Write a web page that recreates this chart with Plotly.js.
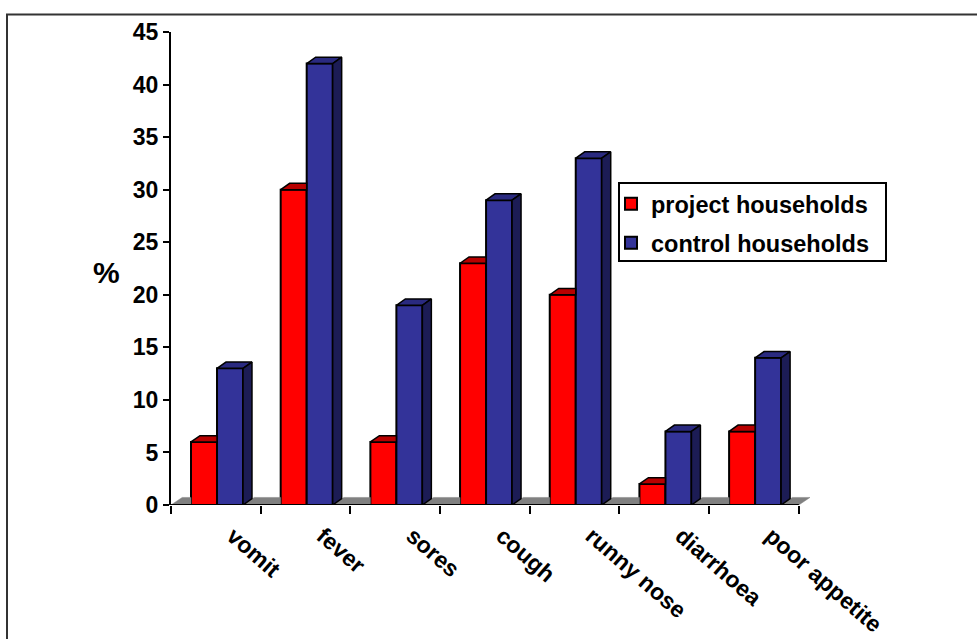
<!DOCTYPE html>
<html><head><meta charset="utf-8">
<script src="https://cdn.plot.ly/plotly-3.0.1.min.js"></script>
<style>html,body{margin:0;padding:0;background:#fff}</style></head>
<body><div id="chart" style="width:977px;height:639px"></div>
<script>
const categories = ['vomit','fever','sores','cough','runny nose','diarrhoea','poor appetite'];
const project = [6,30,6,23,20,2,7];
const control = [13,42,19,29,33,7,14];
const seriesNames = ['project households','control households'];
const yTicks = [0,5,10,15,20,25,30,35,40,45];

const W = 0.29, START = 0.223, DX = 0.1, DY = 0.6, FDX = 0.125, FDY = 0.72;
const RED='#FF0000', REDTOP='#B80000', BLUE='#333399', BLUETOP='#2A2A80', BLUESIDE='#1C1C55', FLOOR='#808080';
const font = {family:'"Liberation Sans", Arial, sans-serif', color:'#000', weight:700};
const N = categories.length;
const idx = categories.map((_,i)=>i);
const poly = (pts,color,lw=1.5)=>({type:'scatter',mode:'lines',x:pts.map(p=>p[0]),y:pts.map(p=>p[1]),fill:'toself',
  fillcolor:color,line:{color:lw?'#000':color,width:lw||0.5},showlegend:false,hoverinfo:'skip',cliponaxis:false});

const traces = [];
traces.push({type:'bar',name:seriesNames[0],legend:'legend',x:idx.map(i=>i+START+W/2),y:project,width:W,
  marker:{color:RED,line:{color:'#000',width:2}},cliponaxis:false});
traces.push({type:'bar',name:seriesNames[1],legend:'legend2',x:idx.map(i=>i+START+1.5*W),y:control,width:W,
  marker:{color:BLUE,line:{color:'#000',width:2}},cliponaxis:false});
idx.forEach(i=>{
  const l=i+START, m=l+W, r=l+2*W;
  if(i===0) traces.push(poly([[0,0],[FDX,FDY],[l,FDY],[l,0],[0,0]],FLOOR,0));
  const rightEnd = i<N-1 ? i+1+START : N;
  const floorTop = i<N-1 ? i+1+START : N+FDX;
  traces.push(poly([[r,0],[r+FDX,FDY],[floorTop,FDY],[rightEnd,0],[r,0]],FLOOR,0));
  traces.push(poly([[l,project[i]],[l+DX,project[i]+DY],[m,project[i]+DY],[m,project[i]],[l,project[i]]],REDTOP));
  traces.push(poly([[m,control[i]],[m+DX,control[i]+DY],[r+DX,control[i]+DY],[r,control[i]],[m,control[i]]],BLUETOP));
  traces.push(poly([[r,0],[r+DX,DY],[r+DX,control[i]+DY],[r,control[i]],[r,0]],BLUESIDE));
});
// category axis line, stops at the last category while the floor runs past it
traces.push({type:'scatter',mode:'lines',x:[0,N],y:[0,0],line:{color:'#000',width:2},showlegend:false,hoverinfo:'skip',cliponaxis:false});

const L=171, R=810, T=32, B=505;
const px = v=>(v-L)/(R-L), py = v=>(B-v)/(B-T);
const legendBase = {xanchor:'left',yanchor:'top',bgcolor:'rgba(0,0,0,0)',borderwidth:0,indentation:-3,
  font:Object.assign({size:23.5},font)};
const layout = {
  width:977,height:639,paper_bgcolor:'#fff',plot_bgcolor:'rgba(0,0,0,0)',
  margin:{l:L,r:977-R,t:T,b:639-B,pad:0},
  barmode:'overlay',hovermode:false,
  font:Object.assign({size:20},font),
  xaxis:{range:[0,N+FDX],tickmode:'array',tickvals:idx.map(i=>i+0.69),ticktext:categories,
    tickangle:41,ticks:'',ticklen:0,showgrid:false,zeroline:false,showline:false,
    tickfont:Object.assign({size:23},font),ticklabelstandoff:12,
    minor:{tick0:0,dtick:1,ticks:'outside',ticklen:8,tickwidth:2,tickcolor:'#000',showgrid:false}},
  yaxis:{range:[0,45],tickmode:'array',tickvals:yTicks,ticks:'outside',ticklen:6,tickwidth:2,tickcolor:'#000',
    showgrid:false,zeroline:false,showline:true,linecolor:'#000',linewidth:2,tickfont:Object.assign({size:23},font)},
  legend:Object.assign({x:px(614),y:py(182)},legendBase),
  legend2:Object.assign({x:px(614),y:py(221)},legendBase),
  annotations:[{text:'%',xref:'paper',yref:'paper',x:px(106),y:py(272),showarrow:false,xanchor:'center',yanchor:'middle',
    font:Object.assign({size:30},font)}],
  shapes:[
    {type:'rect',xref:'paper',yref:'paper',x0:px(7),x1:px(1100),y0:py(700),y1:py(14.5),line:{color:'#333',width:2},fillcolor:'rgba(0,0,0,0)',layer:'below'},
    {type:'rect',xref:'paper',yref:'paper',x0:px(619),x1:px(886),y0:py(261),y1:py(183),line:{color:'#000',width:2},fillcolor:'#fff',layer:'below'}
  ]
};
Plotly.newPlot('chart',traces,layout,{displayModeBar:false,responsive:false});
</script></body></html>
